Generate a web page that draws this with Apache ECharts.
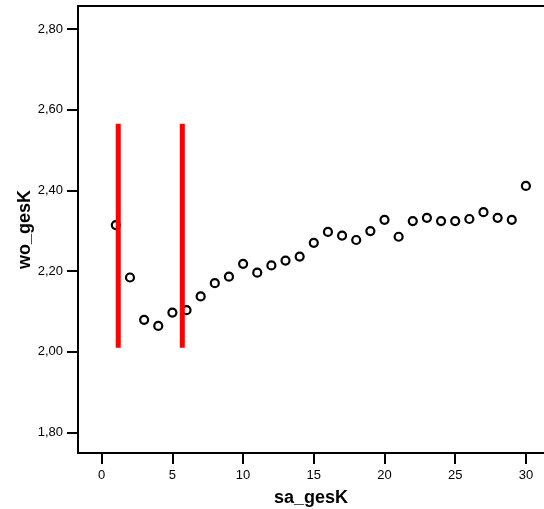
<!DOCTYPE html>
<html>
<head>
<meta charset="utf-8">
<script src="https://cdn.jsdelivr.net/npm/echarts@6/dist/echarts.min.js"></script>
<style>
  html, body { margin: 0; padding: 0; background: #fff; }
  #chart { width: 544px; height: 509px; }
</style>
</head>
<body>
<div id="chart"></div>
<script>
// sa_gesK (x) and wo_gesK (y) means
const saValues = [1, 2, 3, 4, 5, 6, 7, 8, 9, 10, 11, 12, 13, 14, 15, 16, 17, 18, 19, 20,
                  21, 22, 23, 24, 25, 26, 27, 28, 29, 30];
const woValues = [2.314, 2.184, 2.079, 2.064, 2.097, 2.103, 2.137, 2.170, 2.186, 2.218,
                  2.196, 2.214, 2.226, 2.236, 2.270, 2.297, 2.288, 2.277, 2.299, 2.327,
                  2.285, 2.324, 2.332, 2.324, 2.324, 2.329, 2.346, 2.332, 2.327, 2.411];
// red marker lines
const markerX = [1.17, 5.70];
const markerY = [2.01, 2.565];
const xTicks = [0, 5, 10, 15, 20, 25, 30];
const yTicks = [1.8, 2.0, 2.2, 2.4, 2.6, 2.8];

const chart = echarts.init(document.getElementById("chart"), null, { renderer: "canvas" });
const font = "Liberation Sans, Arial, sans-serif";

const points = saValues.map((x, i) => [x, woValues[i]]);
const markerSeries = markerX.map((x, i) => ({
    name: "marker" + i,
    type: "line",
    data: [[x, markerY[0]], [x, markerY[1]]],
    symbol: "none",
    lineStyle: { color: "#ff0000", width: 5, cap: "butt" },
    z: 5,
    silent: true,
}));

chart.setOption({
    animation: false,
    grid: { left: 78, right: 0, top: 6, bottom: 56, outerBoundsMode: "none", containLabel: false },
    xAxis: [
        {
            type: "value",
            min: -1.676,
            max: 31.28,
            name: "sa_gesK",
            nameLocation: "middle",
            nameGap: 36,
            nameMoveOverlap: false,
            nameTextStyle: { fontFamily: font, fontWeight: "bold", fontSize: 18, color: "#000" },
            axisLine: { show: true, onZero: false, lineStyle: { color: "#000", width: 2 } },
            axisTick: { show: true, length: 11, lineStyle: { color: "#000", width: 2 }, customValues: xTicks },
            axisLabel: { fontFamily: font, fontSize: 13, color: "#000", margin: 16, customValues: xTicks },
            splitLine: { show: false },
        },
        {
            type: "value",
            position: "top",
            min: -1.676,
            max: 31.28,
            axisLine: { show: true, onZero: false, lineStyle: { color: "#000", width: 2 } },
            axisTick: { show: false },
            axisLabel: { show: false },
            splitLine: { show: false },
        },
    ],
    yAxis: {
        type: "value",
        min: 1.749,
        max: 2.857,
        name: "wo_gesK",
        nameLocation: "middle",
        nameGap: 44,
        nameMoveOverlap: false,
        nameTextStyle: { fontFamily: font, fontWeight: "bold", fontSize: 18, color: "#000" },
        axisLine: { show: true, onZero: false, lineStyle: { color: "#000", width: 2 } },
        axisTick: { show: true, length: 11, lineStyle: { color: "#000", width: 2 }, customValues: yTicks },
        axisLabel: {
            fontFamily: font, fontSize: 13, color: "#000", margin: 15, customValues: yTicks,
            formatter: v => v.toFixed(2).replace(".", ","),
        },
        splitLine: { show: false },
    },
    series: [
        {
            name: "points",
            type: "scatter",
            data: points,
            symbol: "circle",
            symbolSize: 8,
            itemStyle: { color: "#fff", borderColor: "#000", borderWidth: 2.2, opacity: 1 },
            z: 3,
        },
        ...markerSeries,
    ],
});
</script>
</body>
</html>
